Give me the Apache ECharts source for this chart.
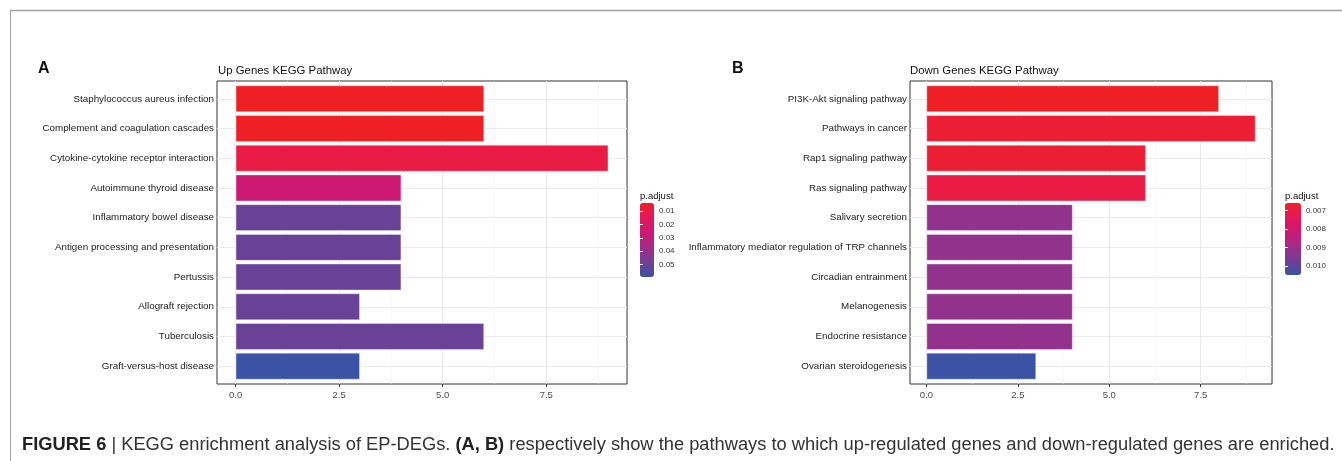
<!DOCTYPE html>
<html><head><meta charset="utf-8">
<script src="https://cdn.jsdelivr.net/npm/echarts@6/dist/echarts.min.js"></script>
<style>html,body{margin:0;padding:0;background:#fff}#c{width:1342px;height:461px}</style>
</head><body><div id="c"></div><script>
const upCategories = ['Staphylococcus aureus infection','Complement and coagulation cascades','Cytokine-cytokine receptor interaction','Autoimmune thyroid disease','Inflammatory bowel disease','Antigen processing and presentation','Pertussis','Allograft rejection','Tuberculosis','Graft-versus-host disease'];
const upCounts = [6, 6, 9, 4, 4, 4, 4, 3, 6, 3];
const upPadj = [0.0038, 0.0042, 0.0095, 0.025, 0.050, 0.050, 0.050, 0.050, 0.050, 0.0593];
const downCategories = ['PI3K-Akt signaling pathway','Pathways in cancer','Rap1 signaling pathway','Ras signaling pathway','Salivary secretion','Inflammatory mediator regulation of TRP channels','Circadian entrainment','Melanogenesis','Endocrine resistance','Ovarian steroidogenesis'];
const downCounts = [8, 9, 6, 6, 4, 4, 4, 4, 4, 3];
const downPadj = [0.0066, 0.0068, 0.0068, 0.0070, 0.0092, 0.0092, 0.0092, 0.0092, 0.0092, 0.0105];
const xTicks = [0, 2.5, 5, 7.5];
const xMinorTicks = [1.25, 3.75, 6.25, 8.75];
const upLegendTicks = [0.01, 0.02, 0.03, 0.04, 0.05];
const downLegendTicks = [0.007, 0.008, 0.009, 0.010];
const upLegendRange = [0.0038, 0.0593];
const downLegendRange = [0.0066, 0.0105];

const gradient = ['#EE2024','#EA1C44','#E2185A','#D81668','#CA1A74','#B8227F','#A22B88','#8A358F','#723F96','#56489D','#3A53A4'];
const FONT = 'Liberation Sans, Arial, sans-serif';

// panel geometry (ggplot-like: discrete axis expanded by 0.6 category on each side)
const PANEL_TOP = 81, PANEL_H = 303;
const BAND = PANEL_H / 10.2;
const BAR_TOP = PANEL_TOP + 0.1 * BAND, BAR_H = 10 * BAND;

function xRange(counts){ const m = Math.max(...counts); return [-0.05*m, 1.05*m]; }

function vGridSeries(ai){
  return {
    type: 'line', xAxisIndex: ai, yAxisIndex: ai, data: [], z: 1, silent: true,
    markLine: {
      silent: true, symbol: ['none','none'], label: {show: false}, animation: false, z: 1,
      data: [
        ...xMinorTicks.map(v => ({xAxis: v, lineStyle: {color: '#F3F3F3', width: 0.6, type: 'solid'}})),
        ...xTicks.map(v => ({xAxis: v, lineStyle: {color: '#EBEBEB', width: 1, type: 'solid'}}))
      ]
    }
  };
}
function hGridSeries(ai, cats){
  return {
    type: 'line', xAxisIndex: ai, yAxisIndex: ai, data: [], z: 1, silent: true,
    markLine: {
      silent: true, symbol: ['none','none'], label: {show: false}, animation: false, z: 1,
      data: cats.map((c, i) => ({yAxis: i, lineStyle: {color: '#EBEBEB', width: 1, type: 'solid'}}))
    }
  };
}

function panelX(gi, counts){
  const r = xRange(counts);
  return {
    gridIndex: gi, type: 'value', min: r[0], max: r[1],
    axisLine: {show: false},
    axisTick: {show: true, length: 3, lineStyle: {color: '#333'}, customValues: xTicks},
    axisLabel: {customValues: xTicks, formatter: v => v.toFixed(1), fontSize: 9.5, color: '#4D4D4D', margin: 6, fontFamily: FONT},
    splitLine: {show: false}
  };
}
function hiddenX(gi, counts){
  const r = xRange(counts);
  return {gridIndex: gi, type: 'value', min: r[0], max: r[1], show: false, splitLine: {show: false}};
}
function barY(gi, cats){
  return {
    gridIndex: gi, type: 'category', data: cats, inverse: true,
    axisLine: {show: false},
    axisTick: {show: true, alignWithLabel: true, length: 3, lineStyle: {color: '#333'}},
    axisLabel: {fontSize: 9.8, color: '#222', margin: 3, fontFamily: FONT},
    splitLine: {show: false}
  };
}
function hiddenY(gi){
  return {gridIndex: gi, type: 'value', min: 0, max: 1, show: false, splitLine: {show: false}};
}
function legendY(gi, range, ticks, pos, dec, showLabel){
  return {
    gridIndex: gi, type: 'value', min: range[0], max: range[1], inverse: true, position: pos, z: 10,
    axisLine: {show: false},
    axisTick: {show: true, inside: true, length: 3, lineStyle: {color: '#fff', width: 1}, customValues: ticks},
    axisLabel: {show: showLabel, customValues: ticks, formatter: v => v.toFixed(dec), fontSize: 8, color: '#333', margin: 5, fontFamily: FONT},
    splitLine: {show: false}
  };
}

const option = {
  animation: false,
  backgroundColor: '#fff',
  textStyle: {fontFamily: FONT},
  grid: [
    {left: 217, top: PANEL_TOP, width: 410, height: PANEL_H, show: true, borderColor: '#333', borderWidth: 1, backgroundColor: '#fff'},
    {left: 910, top: PANEL_TOP, width: 362, height: PANEL_H, show: true, borderColor: '#333', borderWidth: 1, backgroundColor: '#fff'},
    {left: 217, top: BAR_TOP, width: 410, height: BAR_H},
    {left: 910, top: BAR_TOP, width: 362, height: BAR_H},
    {left: 640, top: 203, width: 14, height: 74},
    {left: 1285, top: 203, width: 16, height: 72}
  ],
  xAxis: [
    panelX(0, upCounts), panelX(1, downCounts),
    hiddenX(2, upCounts), hiddenX(3, downCounts),
    {gridIndex: 4, type: 'value', show: false, min: 0, max: 1},
    {gridIndex: 5, type: 'value', show: false, min: 0, max: 1}
  ],
  yAxis: [
    hiddenY(0), hiddenY(1),
    barY(2, upCategories), barY(3, downCategories),
    legendY(4, upLegendRange, upLegendTicks, 'right', 2, true),
    legendY(5, downLegendRange, downLegendTicks, 'right', 3, true),
    legendY(4, upLegendRange, upLegendTicks, 'left', 2, false),
    legendY(5, downLegendRange, downLegendTicks, 'left', 3, false)
  ],
  visualMap: [
    {type: 'continuous', seriesIndex: 0, dimension: 2, min: upLegendRange[0], max: upLegendRange[1], inverse: true, calculable: false,
     left: 640, top: 203, itemWidth: 14, itemHeight: 74, padding: 0, inRange: {color: gradient}, z: 2},
    {type: 'continuous', seriesIndex: 1, dimension: 2, min: downLegendRange[0], max: downLegendRange[1], inverse: true, calculable: false,
     left: 1285, top: 203, itemWidth: 16, itemHeight: 72, padding: 0, inRange: {color: gradient}, z: 2}
  ],
  series: [
    {type: 'bar', xAxisIndex: 2, yAxisIndex: 2, z: 10, barCategoryGap: '10%', encode: {x: 0, y: 1},
     itemStyle: {borderColor: 'rgba(255,255,255,0.45)', borderWidth: 0.8},
     data: upCategories.map((c, i) => [upCounts[i], c, upPadj[i]])},
    {type: 'bar', xAxisIndex: 3, yAxisIndex: 3, z: 10, barCategoryGap: '10%', encode: {x: 0, y: 1},
     itemStyle: {borderColor: 'rgba(255,255,255,0.45)', borderWidth: 0.8},
     data: downCategories.map((c, i) => [downCounts[i], c, downPadj[i]])},
    vGridSeries(0), vGridSeries(1),
    hGridSeries(2, upCategories), hGridSeries(3, downCategories)
  ],
  graphic: [
    {type: 'line', shape: {x1: 10, y1: 10.5, x2: 1342, y2: 10.5}, style: {stroke: '#A0A0A0', lineWidth: 1.5}},
    {type: 'line', shape: {x1: 10.5, y1: 10, x2: 10.5, y2: 461}, style: {stroke: '#A0A0A0', lineWidth: 1}},
    {type: 'text', left: 38, top: 61, style: {text: 'A', font: 'bold 16px ' + FONT, fill: '#111'}},
    {type: 'text', left: 732, top: 61, style: {text: 'B', font: 'bold 16px ' + FONT, fill: '#111'}},
    {type: 'text', left: 218, top: 65, style: {text: 'Up Genes KEGG Pathway', font: '11.4px ' + FONT, fill: '#111'}},
    {type: 'text', left: 910, top: 65, style: {text: 'Down Genes KEGG Pathway', font: '11.4px ' + FONT, fill: '#111'}},
    {type: 'text', left: 640, top: 191, style: {text: 'p.adjust', font: '9.5px ' + FONT, fill: '#111'}},
    {type: 'text', left: 1285, top: 191, style: {text: 'p.adjust', font: '9.5px ' + FONT, fill: '#111'}},
    {type: 'text', left: 22, top: 436, style: {
      text: '{b|FIGURE 6} {n|| KEGG enrichment analysis of EP-DEGs.} {b|(A, B)} {n|respectively show the pathways to which up-regulated genes and down-regulated genes are enriched.}',
      rich: {
        b: {fontFamily: FONT, fontSize: 18.3, fontWeight: 'bold', fill: '#222', color: '#222'},
        n: {fontFamily: FONT, fontSize: 18.3, fill: '#333', color: '#333'}
      },
      font: '18.3px ' + FONT, fill: '#333'
    }}
  ]
};
const chart = echarts.init(document.getElementById('c'), null, {renderer: 'canvas'});
chart.setOption(option);
</script></body></html>
